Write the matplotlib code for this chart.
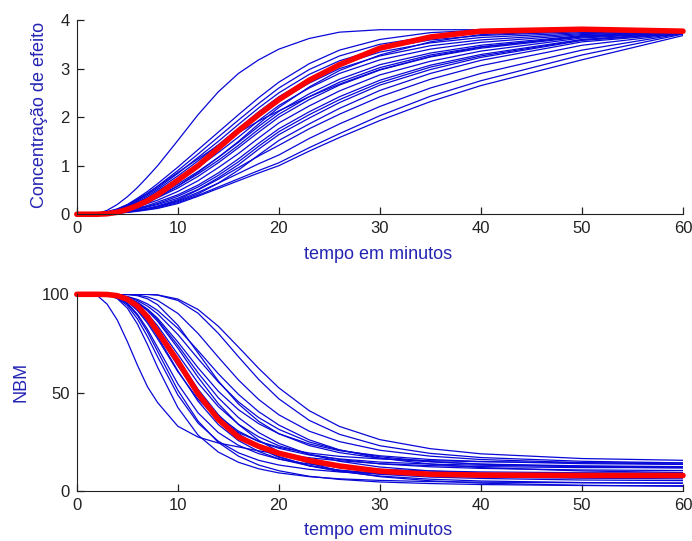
import matplotlib
matplotlib.use("Agg")
import matplotlib.pyplot as plt

plt.rcParams["font.family"] = ["Liberation Sans", "DejaVu Sans"]

# tempo (min) em que cada curva foi lida
tempo = [0, 2, 3, 4, 5, 6, 7, 8, 10, 12, 14, 16, 18, 20, 23, 26, 30, 35, 40, 50, 60]

# concentracao de efeito - curvas individuais
ce_curves = [
    [0, 0.01, 0.08, 0.20, 0.36, 0.55, 0.77, 1.00, 1.52, 2.05, 2.52, 2.90, 3.18, 3.40, 3.62, 3.75, 3.80, 3.80, 3.80, 3.80, 3.79],
    [0, 0, 0.05, 0.11, 0.20, 0.33, 0.47, 0.63, 0.97, 1.33, 1.69, 2.05, 2.40, 2.72, 3.10, 3.38, 3.60, 3.74, 3.79, 3.80, 3.78],
    [0, 0, 0.05, 0.10, 0.19, 0.31, 0.43, 0.58, 0.90, 1.24, 1.59, 1.94, 2.28, 2.60, 2.98, 3.26, 3.50, 3.66, 3.73, 3.78, 3.77],
    [0, 0, 0.04, 0.10, 0.17, 0.29, 0.41, 0.54, 0.84, 1.17, 1.50, 1.85, 2.19, 2.50, 2.88, 3.16, 3.41, 3.59, 3.68, 3.76, 3.77],
    [0, 0, 0.04, 0.09, 0.16, 0.27, 0.38, 0.51, 0.79, 1.10, 1.43, 1.77, 2.11, 2.42, 2.79, 3.08, 3.34, 3.53, 3.64, 3.74, 3.77],
    [0, 0, 0.04, 0.08, 0.15, 0.25, 0.35, 0.48, 0.74, 1.04, 1.35, 1.69, 2.02, 2.34, 2.70, 3.00, 3.26, 3.47, 3.59, 3.72, 3.76],
    [0, 0, 0.03, 0.08, 0.14, 0.23, 0.33, 0.44, 0.69, 0.97, 1.27, 1.59, 1.93, 2.24, 2.60, 2.90, 3.18, 3.40, 3.54, 3.70, 3.76],
    [0, 0, 0.03, 0.07, 0.12, 0.20, 0.29, 0.39, 0.62, 0.88, 1.17, 1.48, 1.81, 2.12, 2.48, 2.78, 3.08, 3.32, 3.48, 3.68, 3.75],
    [0, 0, 0.03, 0.07, 0.12, 0.19, 0.27, 0.37, 0.58, 0.83, 1.11, 1.42, 1.75, 2.06, 2.42, 2.72, 3.02, 3.28, 3.45, 3.66, 3.75],
    [0, 0, 0.03, 0.06, 0.11, 0.18, 0.25, 0.34, 0.54, 0.78, 1.06, 1.37, 1.69, 2.00, 2.36, 2.66, 2.97, 3.24, 3.42, 3.65, 3.74],
    [0, 0, 0.02, 0.05, 0.10, 0.16, 0.22, 0.29, 0.47, 0.69, 0.96, 1.25, 1.57, 1.88, 2.23, 2.54, 2.87, 3.15, 3.36, 3.63, 3.74],
    [0, 0, 0.02, 0.05, 0.08, 0.13, 0.18, 0.25, 0.40, 0.60, 0.85, 1.14, 1.46, 1.76, 2.11, 2.42, 2.76, 3.07, 3.29, 3.60, 3.73],
    [0, 0, 0.02, 0.04, 0.07, 0.12, 0.16, 0.22, 0.37, 0.56, 0.80, 1.08, 1.40, 1.70, 2.05, 2.36, 2.71, 3.03, 3.26, 3.59, 3.73],
    [0, 0, 0.01, 0.04, 0.07, 0.10, 0.15, 0.20, 0.33, 0.51, 0.75, 1.02, 1.34, 1.64, 1.98, 2.30, 2.66, 2.98, 3.23, 3.58, 3.73],
    [0, 0, 0.01, 0.03, 0.05, 0.08, 0.11, 0.15, 0.26, 0.42, 0.64, 0.91, 1.22, 1.52, 1.86, 2.18, 2.55, 2.90, 3.17, 3.55, 3.72],
    [0, 0, 0.01, 0.03, 0.05, 0.08, 0.12, 0.17, 0.30, 0.50, 0.72, 0.96, 1.20, 1.42, 1.76, 2.06, 2.42, 2.78, 3.06, 3.48, 3.72],
    [0, 0, 0.01, 0.03, 0.05, 0.08, 0.12, 0.16, 0.28, 0.45, 0.64, 0.84, 1.04, 1.22, 1.56, 1.86, 2.22, 2.60, 2.90, 3.38, 3.72],
    [0, 0, 0.01, 0.02, 0.04, 0.07, 0.10, 0.13, 0.24, 0.39, 0.56, 0.73, 0.90, 1.06, 1.37, 1.66, 2.03, 2.43, 2.75, 3.28, 3.71],
    [0, 0, 0.01, 0.02, 0.04, 0.06, 0.09, 0.12, 0.22, 0.37, 0.53, 0.69, 0.85, 1.00, 1.30, 1.58, 1.93, 2.32, 2.65, 3.18, 3.68],
    [0, 0, 0.04, 0.10, 0.19, 0.30, 0.43, 0.57, 0.86, 1.14, 1.42, 1.68, 1.92, 2.13, 2.42, 2.68, 2.98, 3.25, 3.44, 3.67, 3.75],
    [0, 0, 0.01, 0.04, 0.08, 0.15, 0.24, 0.35, 0.58, 0.86, 1.17, 1.50, 1.86, 2.20, 2.62, 2.96, 3.28, 3.55, 3.70, 3.78, 3.77],
]
ce_media = [0, 0, 0.01, 0.04, 0.10, 0.18, 0.28, 0.40, 0.70, 1.00, 1.36, 1.72, 2.05, 2.36, 2.76, 3.08, 3.42, 3.65, 3.77, 3.81, 3.77]

# NBM - curvas individuais
nbm_curves = [
    [100, 99.5, 95, 87, 76, 64, 53, 45, 33, 27.5, 24.5, 22.5, 20.5, 19, 17, 15.5, 14, 13, 12.5, 12, 12],
    [100, 100, 100, 100, 100, 100, 100, 99.7, 97.6, 92.3, 83.8, 73.2, 62.4, 52.5, 40.9, 32.9, 26.2, 21.6, 19.0, 16.6, 15.7],
    [100, 100, 100, 100, 100, 100, 99.9, 99.6, 96.9, 90.4, 80.2, 68.3, 56.8, 46.9, 36.0, 28.9, 23.1, 19.2, 17.1, 15.2, 14.4],
    [100, 100, 100, 100, 99.9, 99.6, 98.7, 96.9, 90.3, 80.1, 68.1, 56.5, 46.6, 38.8, 30.5, 25.2, 20.8, 17.8, 16.1, 14.5, 13.8],
    [100, 100, 100, 100, 99.9, 99.3, 97.7, 94.7, 84.3, 70.2, 56.0, 44.3, 35.5, 29.2, 23.2, 19.6, 16.7, 14.9, 13.8, 12.9, 12.5],
    [100, 100, 99.7, 97.8, 93.0, 84.9, 74.4, 62.9, 42.5, 28.5, 19.9, 14.7, 11.4, 9.3, 7.4, 6.3, 5.5, 4.9, 4.6, 4.3, 4.2],
    [100, 100, 99.8, 98.5, 95.1, 89.2, 80.9, 71.0, 51.3, 35.6, 24.8, 17.8, 13.3, 10.4, 7.6, 6.0, 4.7, 3.9, 3.4, 2.9, 2.8],
    [100, 100, 99.8, 98.6, 95.5, 89.9, 82.2, 73.0, 54.5, 39.8, 29.8, 23.3, 19.1, 16.3, 13.8, 12.2, 11.1, 10.3, 9.8, 9.4, 9.2],
    [100, 100, 99.9, 98.9, 96.3, 91.7, 85.3, 77.4, 60.7, 46.7, 36.6, 29.8, 25.3, 22.3, 19.4, 17.7, 16.4, 15.5, 15.0, 14.5, 14.3],
    [100, 100, 99.9, 99.0, 96.6, 92.4, 86.3, 78.5, 61.2, 45.7, 33.9, 25.7, 20.2, 16.4, 12.9, 10.7, 9.0, 7.9, 7.2, 6.6, 6.3],
    [100, 100, 99.9, 99.0, 96.8, 92.9, 87.2, 79.8, 63.7, 49.1, 38.1, 30.5, 25.3, 21.8, 18.4, 16.4, 14.8, 13.8, 13.2, 12.6, 12.3],
    [100, 100, 99.9, 99.1, 97.1, 93.3, 87.8, 80.7, 64.3, 48.8, 36.5, 27.8, 21.9, 17.2, 13.1, 10.6, 8.6, 7.2, 6.5, 5.7, 5.4],
    [100, 100, 99.9, 99.2, 97.5, 94.2, 89.3, 82.8, 67.3, 51.8, 38.9, 29.3, 22.4, 17.6, 12.9, 10.0, 7.7, 6.1, 5.2, 4.4, 4.0],
    [100, 100, 99.9, 99.3, 97.7, 94.6, 90.0, 84.0, 69.5, 55.0, 43.0, 34.0, 27.6, 23.1, 18.8, 16.1, 13.9, 12.4, 11.6, 10.8, 10.5],
    [100, 100, 99.9, 99.4, 98.0, 95.5, 91.6, 86.3, 72.7, 57.9, 44.5, 33.9, 25.9, 20.1, 14.2, 10.4, 7.4, 5.3, 4.1, 3.0, 2.5],
    [100, 100, 99.9, 99.4, 98.1, 95.7, 92.0, 87.0, 74.1, 60.1, 47.5, 37.4, 29.8, 24.3, 18.7, 15.2, 12.3, 10.3, 9.2, 8.1, 7.6],
    [100, 100, 99.9, 99.5, 98.3, 96.0, 92.5, 87.8, 75.8, 62.7, 50.8, 41.4, 34.3, 29.2, 24.0, 20.6, 18.0, 16.1, 15.1, 14.0, 13.6],
    [100, 100, 99.9, 99.6, 98.7, 96.8, 94.0, 90.1, 79.6, 67.3, 55.5, 45.4, 37.4, 31.4, 25.0, 20.9, 17.5, 15.1, 13.7, 12.4, 11.8],
    [100, 100, 100, 99.6, 98.9, 97.4, 95.1, 91.8, 82.7, 71.4, 59.7, 49.2, 40.4, 33.6, 26.1, 21.0, 16.8, 13.8, 12.0, 10.3, 9.5],
    [100, 100, 99.8, 98.2, 94.3, 87.5, 78.5, 68.2, 48.9, 34.6, 25.4, 19.5, 15.7, 13.3, 11.1, 9.8, 8.8, 8.1, 7.7, 7.4, 7.2],
]
nbm_media = [100, 100, 99.9, 99.3, 97.5, 94, 88.5, 81, 66, 49.5, 36.5, 27.5, 22.8, 19.3, 15.6, 12.8, 10.2, 8.6, 8.2, 8.0, 8.0]

label_color = "#2424b4"
line_color = "#0808d8"

fig = plt.figure(figsize=(6.92, 5.41), dpi=100)
ax1 = fig.add_axes([0.111, 0.604, 0.876, 0.359])
ax2 = fig.add_axes([0.111, 0.092, 0.876, 0.364])

for c in ce_curves:
    ax1.plot(tempo, c, color=line_color, lw=0.9)
ax1.plot(tempo, ce_media, color="red", lw=4, solid_capstyle="round", clip_on=False)

for c in nbm_curves:
    ax2.plot(tempo, c, color=line_color, lw=0.9)
ax2.plot(tempo, nbm_media, color="red", lw=4, solid_capstyle="round", clip_on=False)

ax1.set_xlim(0, 60)
ax1.set_ylim(0, 4)
ax1.set_yticks([0, 1, 2, 3, 4])
ax2.set_xlim(0, 60)
ax2.set_ylim(0, 100)
ax2.set_yticks([0, 50, 100])

for ax in (ax1, ax2):
    ax.set_xticks([0, 10, 20, 30, 40, 50, 60])
    ax.spines["top"].set_visible(False)
    ax.spines["right"].set_visible(False)
    ax.spines["left"].set_color("#222222")
    ax.spines["bottom"].set_color("#222222")
    ax.tick_params(direction="in", length=5, width=0.9, labelsize=12, pad=5,
                   color="#222222", labelcolor="#222222")
    ax.set_xlabel("tempo em minutos", fontsize=13, color=label_color)

ax1.set_ylabel("Concentração de efeito", fontsize=13, color=label_color, va="center")
ax2.set_ylabel("NBM", fontsize=13, color=label_color, va="center")
ax1.yaxis.set_label_coords(-0.061, 0.51)
ax2.yaxis.set_label_coords(-0.092, 0.553)
ax1.xaxis.set_label_coords(0.497, -0.165)
ax2.xaxis.set_label_coords(0.497, -0.157)

fig.savefig("out.png", dpi=100)
